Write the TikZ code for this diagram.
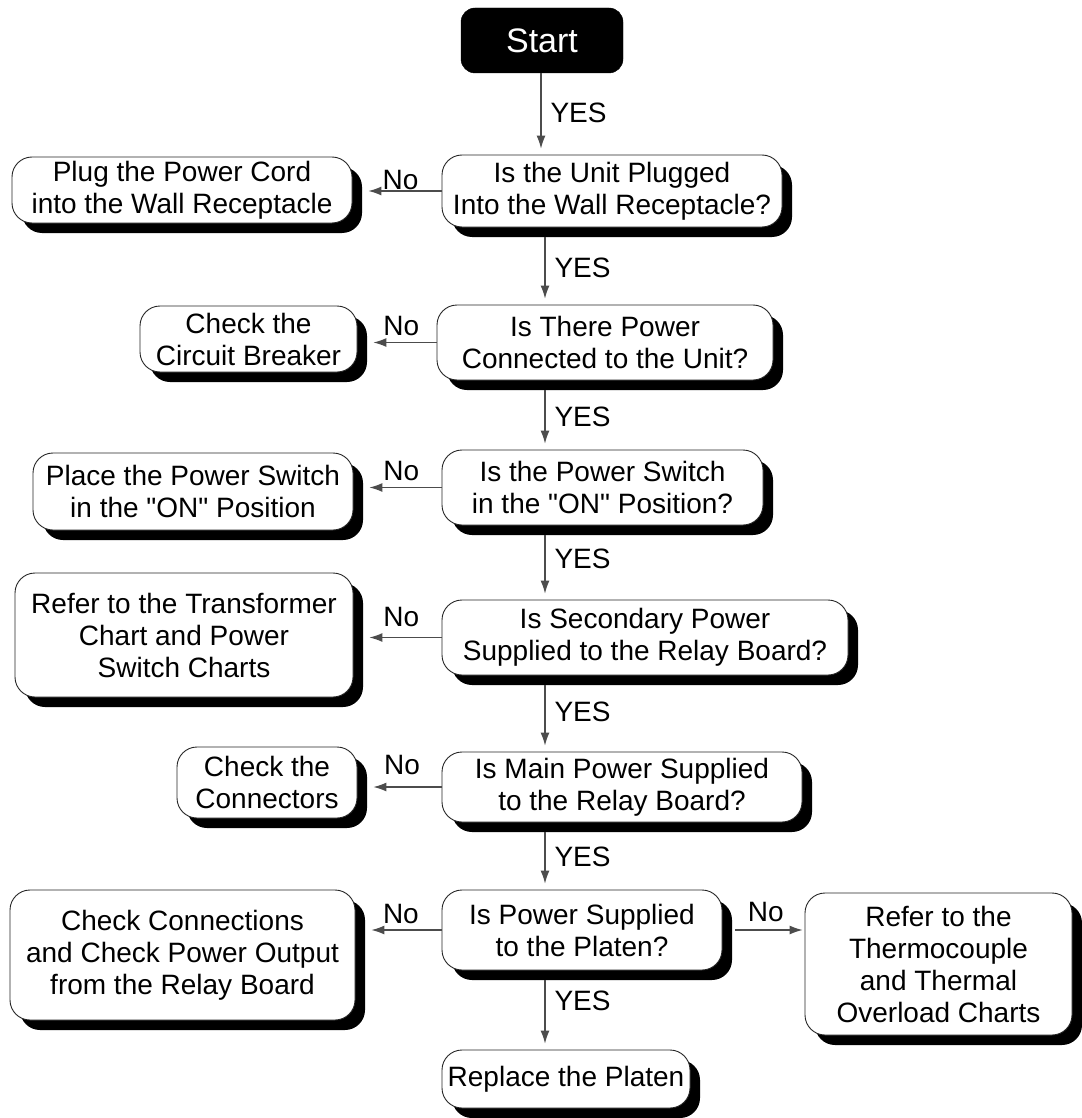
\documentclass[tikz,border=0pt]{standalone}
\usepackage{fontspec}
\setmainfont{Liberation Sans}[Ligatures=TeXOff]
\usetikzlibrary{arrows.meta,shadows}
\begin{document}
\begin{tikzpicture}[x=1pt,y=-1pt,
  txt/.style={font=\fontsize{28}{32}\selectfont},
  box/.style={txt, draw=black!85, line width=0.9pt, fill=white,
    rounded corners=20pt, align=center, inner sep=0pt,
    general shadow={fill=black, shadow xshift=10pt, shadow yshift=-10pt}},
  sz/.style 2 args={minimum width=#1pt, minimum height=#2pt},
  startbox/.style={fill=black, draw=black, rounded corners=14pt,
    text=white, font=\fontsize{34}{38}\selectfont, inner sep=0pt},
  flow/.style={draw=black!70, line width=1.1pt,
    -{Latex[length=13pt,width=9pt]}},
  yes/.style={txt, right=9pt, inner sep=0pt},
  no/.style={txt, inner sep=0pt}]

\useasboundingbox (0,0) rectangle (1081,1118);

% main column of decisions
\node[startbox, sz={162}{65}] (start) at (542,40.5) {Start};
\node[box, sz={340}{72}] (d1) at (612,191) {Is the Unit Plugged\\Into the Wall Receptacle?};
\node[box, sz={336}{75}] (d2) at (605,342.5) {Is There Power\\Connected to the Unit?};
\node[box, sz={321}{75}] (d3) at (602.5,487.5) {Is the Power Switch\\in the "ON" Position?};
\node[box, sz={406}{75}] (d4) at (645,637.5) {Is Secondary Power\\Supplied to the Relay Board?};
\node[box, sz={360}{70}] (d5) at (622,787) {Is Main Power Supplied\\to the Relay Board?};
\node[box, sz={280}{80}] (d6) at (582,930) {Is Power Supplied\\to the Platen?};
\node[box, sz={248}{58}] (p8) at (566,1079) {Replace the Platen};

% remedies on the left
\node[box, sz={340}{66}] (p1) at (182,190) {Plug the Power Cord\\into the Wall Receptacle};
\node[box, sz={217}{66}] (p2) at (248.5,339) {Check the\\Circuit Breaker};
\node[box, sz={320}{77}] (p3) at (193,491.5) {Place the Power Switch\\in the "ON" Position};
\node[box, sz={338}{124}] (p4) at (184,635) {Refer to the Transformer\\Chart and Power\\Switch Charts};
\node[box, sz={180}{71}] (p5) at (267,782.5) {Check the\\Connectors};
\node[box, sz={345}{130}] (p6) at (182.5,955) {Check Connections\\and Check Power Output\\from the Relay Board};

% remedy on the right
\node[box, sz={267}{142}] (p7) at (938.5,964) {Refer to the\\Thermocouple\\and Thermal\\Overload Charts};

% YES path
\coordinate (spine0) at (541,0);
\coordinate (spine) at (545,0);
\draw[flow, shorten >=6pt] (start.south -| spine0) -- node[yes, pos=0.49]{YES} (d1.north -| spine0);
\draw[flow, shorten >=6pt] ([yshift=-10pt]d1.south -| spine) -- node[yes, pos=0.46]{YES} (d2.north -| spine);
\draw[flow, shorten >=6pt] ([yshift=-10pt]d2.south -| spine) -- node[yes, pos=0.45]{YES} (d3.north -| spine);
\draw[flow, shorten >=6pt] ([yshift=-10pt]d3.south -| spine) -- node[yes, pos=0.37]{YES} (d4.north -| spine);
\draw[flow, shorten >=6pt] ([yshift=-10pt]d4.south -| spine) -- node[yes, pos=0.40]{YES} (d5.north -| spine);
\draw[flow, shorten >=6pt] ([yshift=-10pt]d5.south -| spine) -- node[yes, pos=0.43]{YES} (d6.north -| spine);
\draw[flow, shorten >=6pt] ([yshift=-10pt]d6.south -| spine) -- node[yes, pos=0.30]{YES} (p8.north -| spine);

% NO branches
\draw[flow] (d1.west) -- node[no, pos=0.56, above=1pt]{No} ([xshift=16pt]p1.east |- d1.west);
\draw[flow] (d2.west) -- node[no, pos=0.56, above=6pt]{No} ([xshift=16pt]p2.east |- d2.west);
\draw[flow] (d3.west) -- node[no, pos=0.56, above=6pt]{No} ([xshift=16pt]p3.east |- d3.west);
\draw[flow] (d4.west) -- node[no, pos=0.56, above=10pt]{No} ([xshift=16pt]p4.east |- d4.west);
\draw[flow] (d5.west) -- node[no, pos=0.58, above=12pt]{No} ([xshift=16pt]p5.east |- d5.west);
\draw[flow] (d6.west) -- node[no, pos=0.58, above=6pt]{No} ([xshift=16pt]p6.east |- d6.west);
\draw[flow, shorten >=2pt] ([xshift=13pt]d6.east) -- node[no, pos=0.44, above=8pt]{No} (p7.west |- d6.east);

\end{tikzpicture}
\end{document}
